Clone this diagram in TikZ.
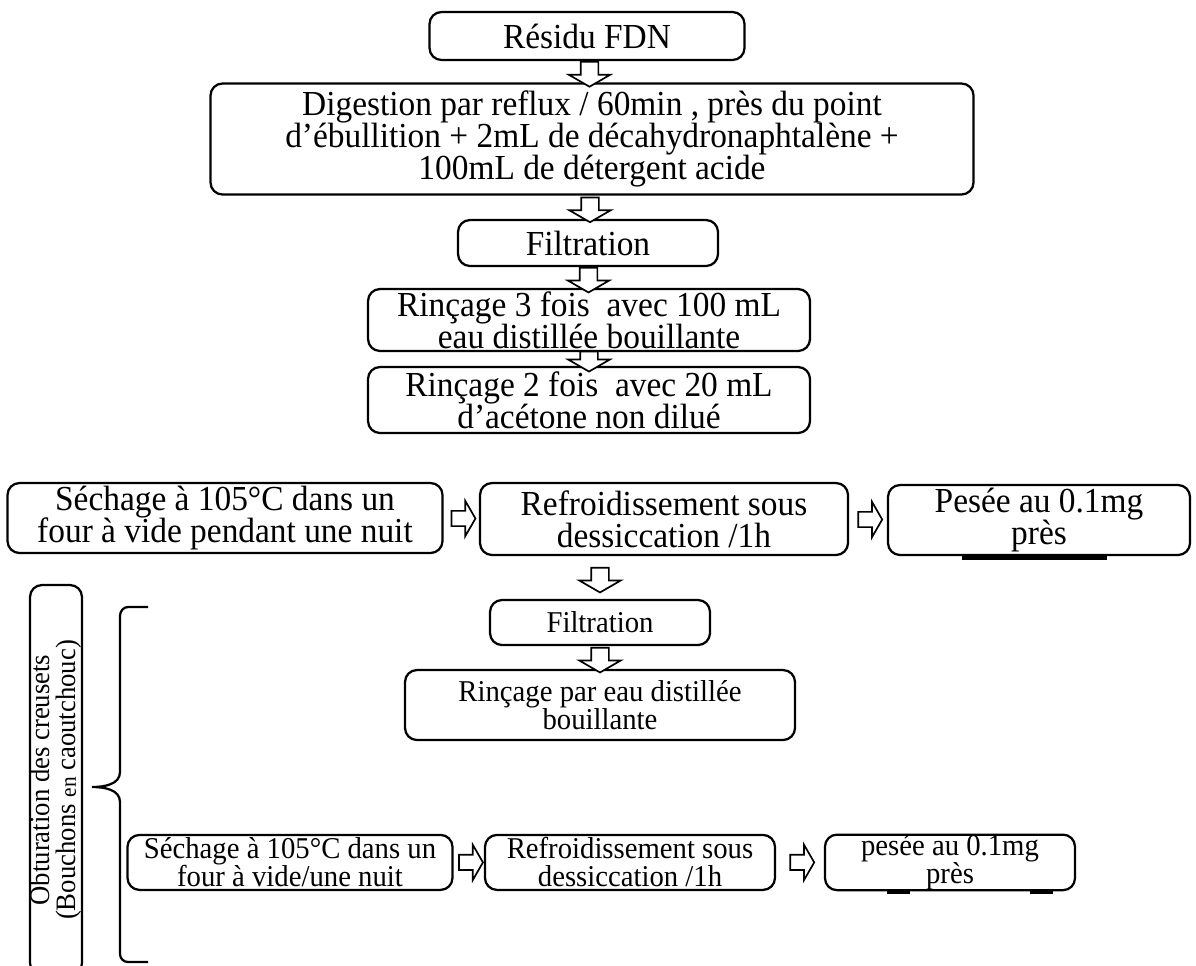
\documentclass[tikz,border=0pt]{standalone}
\usepackage{fontspec}
\setmainfont{Liberation Serif}[FakeStretch=0.95]
\usetikzlibrary{shapes.arrows,calc}

\tikzset{
  stepbox/.style={draw,line width=1.6pt,rounded corners=0.3cm,align=center,inner sep=0pt,
    font=\fontsize{25}{23}\selectfont},
  smallbox/.style={stepbox,font=\fontsize{21.5}{20}\selectfont},
  darr/.style={single arrow,draw,fill=white,line width=1.2pt,inner sep=0.2cm,
    single arrow head extend=0.3cm,single arrow tip angle=120,minimum height=0.62cm,
    shape border rotate=270},
  rarr/.style={darr,shape border rotate=0,inner sep=0.17cm,
    single arrow head extend=0.25cm,minimum height=0.6cm}
}

\begin{document}
\begin{tikzpicture}
  \useasboundingbox (0,0) rectangle (29.9,-24.125);
  % main chain
  \node[stepbox,minimum width=7.875cm,minimum height=1.2cm] (res) at (14.675,-0.9) {Résidu FDN};
  \node[stepbox,minimum width=19.075cm,minimum height=2.775cm] (dig) at (14.8,-3.475)
    {Digestion par reflux / 60min , près du point\\ d’ébullition + 2mL de décahydronaphtalène +\\ 100mL de détergent acide};
  \node[stepbox,minimum width=6.5cm,minimum height=1.15cm] (fil) at (14.7,-6.075) {Filtration};
  \node[stepbox,minimum width=11.05cm,minimum height=1.55cm] (rinA) at (14.725,-8.0)
    {Rinçage 3 fois\ \ avec 100 mL\\ eau distillée bouillante};
  \node[stepbox,minimum width=11.05cm,minimum height=1.65cm] (rinB) at (14.725,-10.0)
    {Rinçage 2 fois\ \ avec 20 mL\\ d’acétone non dilué};
  \node[stepbox,minimum width=10.875cm,minimum height=1.75cm] (sechA) at (5.625,-12.95)
    {Séchage à 105°C dans un\\ four à vide pendant une nuit};
  \node[stepbox,minimum width=9.2cm,minimum height=1.8cm] (refA) at (16.6,-12.975)
    {Refroidissement sous\\ dessiccation /1h};
  \node[stepbox,minimum width=7.55cm,minimum height=1.75cm] (pesA) at (25.975,-13.0)
    {Pesée au 0.1mg\\ près};
  % second pass
  \node[smallbox,minimum width=5.5cm,minimum height=1.125cm] (filB) at (15.0,-15.5625) {Filtration};
  \node[smallbox,minimum width=9.75cm,minimum height=1.75cm] (rinC) at (15.0,-17.625)
    {Rinçage par eau distillée\\ bouillante};
  \node[smallbox,minimum width=8.125cm,minimum height=1.375cm] (sechB) at (7.25,-21.56)
    {Séchage à 105°C dans un\\ four à vide/une nuit};
  \node[smallbox,minimum width=7.25cm,minimum height=1.375cm] (refB) at (15.75,-21.56)
    {Refroidissement sous\\ dessiccation /1h};
  \node[smallbox,minimum width=6.25cm,minimum height=1.375cm] (pesB) at (23.75,-21.56)
    {pesée au 0.1mg\\ près};
  % side note and brace
  \node[stepbox,rotate=90,minimum width=9.75cm,minimum height=1.3cm,
    font=\fontsize{20}{18.5}\selectfont] (obt) at (1.4,-19.5)
    {Obturation des creusets\\ (Bouchons {\fontsize{16}{16}\selectfont en} caoutchouc)};
  \draw[line width=1.6pt] (3.7,-15.175) -- (3.2,-15.175) to[out=180,in=90] (3.0,-15.4)
    -- (3.0,-19.3) to[out=-90,in=0] (2.3,-19.675) to[out=0,in=90] (3.0,-20.05)
    -- (3.0,-23.85) to[out=-90,in=180] (3.2,-24.05) -- (3.7,-24.05);
  % arrows
  \node[darr] (a1) at ($(res.south)!0.5!(dig.north)$) {};
  \node[darr] (a2) at ($(dig.south)!0.5!(fil.north)$) {};
  \node[darr] (a3) at ($(fil.south)!0.5!(rinA.north)$) {};
  \node[darr,inner ysep=0.02cm,minimum height=0.5cm] (a4) at ($(rinA.south)!0.5!(rinB.north)$) {};
  \node[rarr] (a5) at ($(sechA.east)!0.5!(refA.west)$) {};
  \node[rarr] (a6) at ($(refA.east)!0.5!(pesA.west)$) {};
  \node[darr] (a7) at ($(filB.north)!0.5!(filB.north |- refA.south)$) {};
  \node[darr] (a8) at ($(filB.south)!0.5!(rinC.north)$) {};
  \node[rarr] (a9) at ($(sechB.east)!0.5!(refB.west)$) {};
  \node[rarr] (a10) at ($(refB.east)!0.5!(pesB.west)$) {};
  % stray underlines
  \draw[line width=2.5pt] ($(pesA.south)+(-1.925,-0.05)$) -- ($(pesA.south)+(1.7,-0.05)$);
  \draw[line width=2.5pt] ($(pesB.south)+(-1.575,-0.03)$) -- ($(pesB.south)+(-1.0,-0.03)$);
  \draw[line width=2.5pt] ($(pesB.south)+(2.0,-0.03)$) -- ($(pesB.south)+(2.575,-0.03)$);
\end{tikzpicture}
\end{document}
